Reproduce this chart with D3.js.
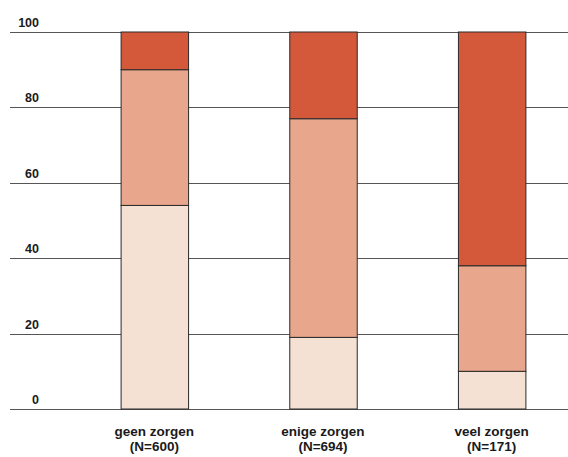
<!DOCTYPE html>
<html><head><meta charset="utf-8">
<script src="https://cdn.jsdelivr.net/npm/d3@7"></script>
<style>html,body{margin:0;padding:0;background:#fff;}</style>
</head><body>
<svg id="c" width="568" height="457"></svg>
<script>
const categories = ["geen zorgen", "enige zorgen", "veel zorgen"];
const nLabels = ["(N=600)", "(N=694)", "(N=171)"];
const seriesLow = [54, 19, 10];
const seriesMid = [36, 58, 28];
const seriesHigh = [10, 23, 62];
const tickValues = [0, 20, 40, 60, 80, 100];
const colors = ["#F5E0D4", "#E8A78C", "#D4583A"];

const svg = d3.select("#c");
const y = d3.scaleLinear().domain([0, 100]).range([409, 32]);
const x = d3.scaleBand().domain(categories).range([70, 576]).paddingInner(0.6).paddingOuter(0.3);

// gridlines
svg.append("g").selectAll("line").data(tickValues).join("line")
  .attr("x1", 10).attr("x2", 568)
  .attr("y1", d => Math.round(y(d)) + 0.5).attr("y2", d => Math.round(y(d)) + 0.5)
  .attr("stroke", "#555").attr("stroke-width", 1.2);

// tick labels
svg.append("g").selectAll("text").data(tickValues).join("text")
  .attr("x", 39).attr("y", d => y(d) - 5)
  .attr("text-anchor", "end")
  .attr("font-family", "Liberation Sans, Arial, sans-serif")
  .attr("font-weight", "bold").attr("font-size", 12.5)
  .attr("fill", "#1a1a1a")
  .text(d => d);

const rows = categories.map((c, i) => ({cat: c, low: seriesLow[i], mid: seriesMid[i], high: seriesHigh[i]}));
const stack = d3.stack().keys(["low", "mid", "high"])(rows);

svg.append("g").selectAll("g").data(stack).join("g")
  .attr("fill", (d, i) => colors[i])
  .selectAll("rect").data(d => d).join("rect")
  .attr("x", d => x(d.data.cat) + 0.5)
  .attr("width", x.bandwidth())
  .attr("y", d => y(d[1]))
  .attr("height", d => y(d[0]) - y(d[1]))
  .attr("stroke", "#2a2a2a").attr("stroke-width", 1);

// category labels
const lab = svg.append("g").selectAll("text").data(categories).join("text")
  .attr("text-anchor", "middle")
  .attr("font-family", "Liberation Sans, Arial, sans-serif")
  .attr("font-weight", "bold").attr("font-size", 13.5)
  .attr("fill", "#1a1a1a");
lab.append("tspan").attr("x", d => x(d) + x.bandwidth() / 2).attr("y", 436).text(d => d);
lab.append("tspan").attr("x", d => x(d) + x.bandwidth() / 2).attr("y", 451).text((d, i) => nLabels[i]);
</script>
</body></html>
